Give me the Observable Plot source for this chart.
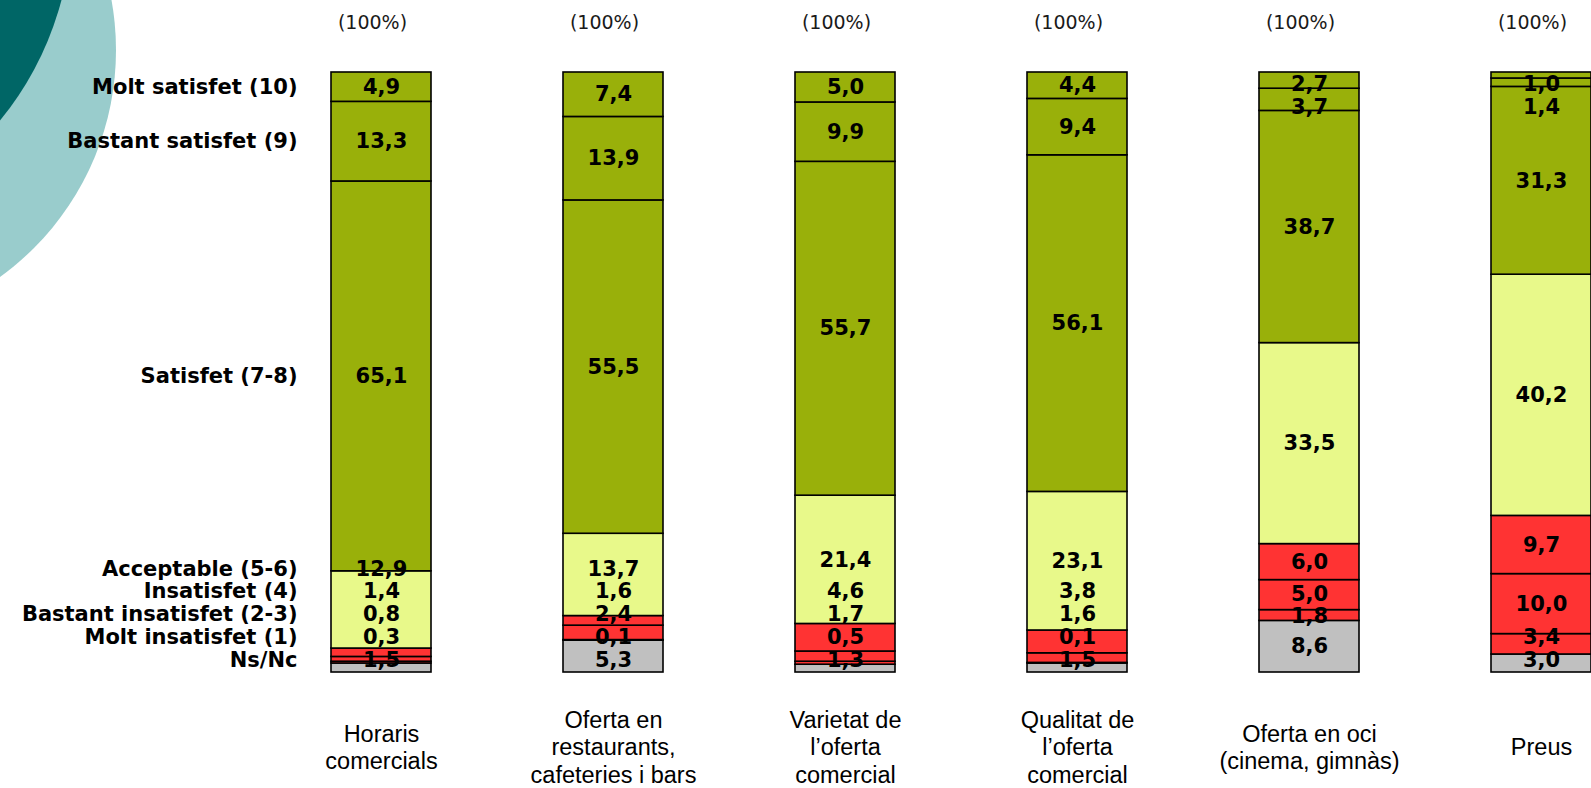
<!DOCTYPE html>
<html>
<head>
<meta charset="utf-8">
<script src="https://cdn.jsdelivr.net/npm/d3@7"></script>
<script src="https://cdn.jsdelivr.net/npm/@observablehq/plot@0.6"></script>
<style>
  html, body { margin: 0; padding: 0; background: #ffffff; overflow: hidden; }
  #wrap { position: relative; width: 1591px; height: 788px; overflow: hidden; }
  .deco { position: absolute; border-radius: 50%; }
  #c1 { left: -444px; top: -230px; width: 560px; height: 560px; background: #99CCCC; }
  #c2 { left: -564px; top: -399px; width: 636px; height: 636px; background: #006666; }
  #chart { position: absolute; left: 0; top: 0; }
</style>
</head>
<body>
<div id="wrap">
  <div class="deco" id="c1"></div>
  <div class="deco" id="c2"></div>
  <div id="chart"></div>
</div>
<script>
// ---- data ----
const categories = ["Horaris comercials", "Oferta en restaurants, cafeteries i bars", "Varietat de l’oferta comercial", "Qualitat de l’oferta comercial", "Oferta en oci (cinema, gimnàs)", "Preus"];
const categoryLabels = ["Horaris\ncomercials", "Oferta en\nrestaurants,\ncafeteries i bars", "Varietat de\nl’oferta\ncomercial", "Qualitat de\nl’oferta\ncomercial", "Oferta en oci\n(cinema, gimnàs)", "Preus"];
const totalLabels = ["(100%)", "(100%)", "(100%)", "(100%)", "(100%)", "(100%)"];
const levels = ["Molt satisfet (10)", "Bastant satisfet (9)", "Satisfet (7-8)", "Acceptable (5-6)", "Insatisfet (4)", "Bastant insatisfet (2-3)", "Molt insatisfet (1)", "Ns/Nc"];
const levelColors = ["#99B00A", "#99B00A", "#99B00A", "#E8F98A", "#FF3333", "#FF3333", "#FF3333", "#C0C0C0"];

const moltSatisfet      = [4.9, 7.4, 5.0, 4.4, 2.7, 1.0];
const bastantSatisfet   = [13.3, 13.9, 9.9, 9.4, 3.7, 1.4];
const satisfet          = [65.1, 55.5, 55.7, 56.1, 38.7, 31.3];
const acceptable        = [12.9, 13.7, 21.4, 23.1, 33.5, 40.2];
const insatisfet        = [1.4, 1.6, 4.6, 3.8, 6.0, 9.7];
const bastantInsatisfet = [0.8, 2.4, 1.7, 1.6, 5.0, 10.0];
const moltInsatisfet    = [0.3, 0.1, 0.5, 0.1, 1.8, 3.4];
const nsnc              = [1.5, 5.3, 1.3, 1.5, 8.6, 3.0];
const series = [moltSatisfet, bastantSatisfet, satisfet, acceptable, insatisfet, bastantInsatisfet, moltInsatisfet, nsnc];

// ---- build stacked rows (100% normalised; Ns/Nc at the bottom) ----
const H = 600;                 // plot height in px (for label spacing)
const unit = H / 100;
const spacing = 22.8 / unit;   // min label spacing in data units
const padBottom = 12.5 / unit, padTop = 12 / unit;

const rows = [];
categories.forEach((cat, ci) => {
  const vals = series.map(s => s[ci]);
  const total = d3.sum(vals);
  let acc = 0;
  const items = [];
  for (let li = levels.length - 1; li >= 0; li--) {
    const v = vals[li] / total * 100;
    items.push({cat, level: levels[li], value: vals[li], y1: acc, y2: acc + v, nat: acc + v / 2});
    acc += v;
  }
  // cluster dodge of labels (bottom -> top order)
  let clusters = items.map(it => ({members: [it]}));
  const place = c => {
    const n = c.members.length;
    const half = (n - 1) * spacing / 2;
    let mid = d3.mean(c.members, m => m.nat);
    mid = Math.max(padBottom + half, Math.min(100 - padTop - half, mid));
    c.lo = mid - half; c.hi = mid + half;
  };
  clusters.forEach(place);
  let merged = true;
  while (merged) {
    merged = false;
    for (let i = 0; i < clusters.length - 1; i++) {
      if (clusters[i + 1].lo - clusters[i].hi < spacing - 1e-9) {
        const c = {members: clusters[i].members.concat(clusters[i + 1].members)};
        place(c);
        clusters.splice(i, 2, c);
        merged = true;
        break;
      }
    }
  }
  clusters.forEach(c => c.members.forEach((m, k) => { m.ly = c.lo + k * spacing; }));
  rows.push(...items);
});

const fmt = v => v.toFixed(1).replace(".", ",");
const firstCat = rows.filter(d => d.cat === categories[0]);

const chart = Plot.plot({
  width: 1591,
  height: 788,
  marginTop: 72,
  marginBottom: 116,
  marginLeft: 0,
  marginRight: 0,
  style: {background: "transparent", fontFamily: "DejaVu Sans"},
  x: {domain: categories, range: [328, 1593], paddingInner: 0.5708, paddingOuter: 0, axis: null},
  y: {domain: [0, 100], axis: null},
  color: {domain: levels, range: levelColors},
  marks: [
    Plot.rectY(rows, {x: "cat", y1: "y1", y2: "y2", fill: "level", stroke: "#000", strokeWidth: 1.6}),
    Plot.text(rows, {x: "cat", y: "ly", text: d => fmt(d.value), fontSize: 21, fontWeight: "bold", fontFamily: "DejaVu Sans", fill: "#000"}),
    Plot.text(firstCat, {x: "cat", y: "ly", text: "level", textAnchor: "end", dx: -84, fontSize: 21, fontWeight: "bold", fontFamily: "DejaVu Sans", fill: "#000"}),
    Plot.text(categories, {x: d => d, text: (d, i) => totalLabels[i], frameAnchor: "top", lineAnchor: "middle", dy: -50, dx: -9, fontSize: 19, fontFamily: "DejaVu Sans", fill: "#1a1a1a"}),
    Plot.text(categories, {x: d => d, text: (d, i) => categoryLabels[i], frameAnchor: "bottom", lineAnchor: "middle", dy: 74, fontSize: 23.5, lineHeight: 1.17, fontFamily: "Liberation Sans", fill: "#000"})
  ]
});
document.getElementById("chart").appendChild(chart);
</script>
</body>
</html>
